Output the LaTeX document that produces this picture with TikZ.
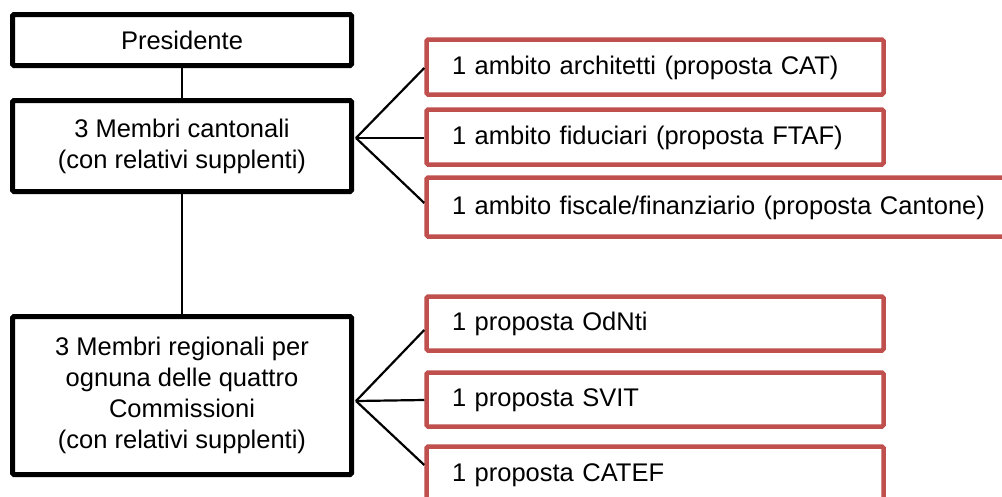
\documentclass[tikz,border=0pt]{standalone}
\usepackage{fontspec}
\setmainfont{Liberation Sans}
\usetikzlibrary{calc}
\definecolor{boxred}{HTML}{C0504D}
\begin{document}
\begin{tikzpicture}[x=1pt,y=-1pt,
  blackbox/.style={draw=black,line width=5pt,rounded corners=1.5pt,fill=white,
    align=center,inner sep=0pt,font=\fontsize{25.5}{31}\selectfont},
  redbox/.style={draw=boxred,line width=4.5pt,rounded corners=1.5pt,fill=white,
    inner xsep=25.5pt,inner ysep=0pt,align=left,minimum height=55pt,
    font=\fontsize{25.5}{31}\selectfont,text height=18.5pt,text depth=4.5pt},
  link/.style={draw=black,line width=2.2pt},
  vlink/.style={draw=black,line width=2.5pt}]
\useasboundingbox (0,0) rectangle (1002,496);
\clip (0,0) rectangle (1002,496);
\fill[white] (0,0) rectangle (1002,496);

% black boxes
\node[blackbox,minimum width=339pt,minimum height=51pt] (pres) at (182,40) {Presidente};
\node[blackbox,minimum width=339pt,minimum height=91pt] (cant) at (182,146)
  {3 Membri cantonali\\(con relativi supplenti)};
\node[blackbox,minimum width=339pt,minimum height=158pt] (reg) at (182,395.5)
  {3 Membri regionali per\\ognuna delle quattro\\Commissioni\\(con relativi supplenti)};

% red boxes, top group
\node[redbox,text width=406pt] (r1) at (655,67) {1 ambito architetti (proposta CAT)};
\node[redbox,text width=406pt] (r2) at (655,137) {1 ambito fiduciari (proposta FTAF)};
\node[redbox,text width=534.5pt,minimum height=59pt] (r3) at (719.25,207)
  {1 ambito fiscale/finanziario (proposta Cantone)};

% red boxes, bottom group
\node[redbox,text width=406pt,minimum height=54pt] (b1) at (655,323.5) {1 proposta OdNti};
\node[redbox,text width=406pt,minimum height=54pt] (b2) at (655,399.5) {1 proposta SVIT};
\node[redbox,text width=406pt,minimum height=56pt] (b3) at (655,474.5) {1 proposta CATEF};

% connectors
\draw[vlink] (pres.south) -- (cant.north);
\draw[vlink] (cant.south) -- (reg.north);

\coordinate (f1) at ($(cant.east)+(2,-8)$);
\coordinate (f2) at ($(reg.east)+(2,5.5)$);

\draw[link] (f1) -- ($(r1.west)+(0,1)$);
\draw[link] (f1) -- ($(r2.west)+(0,1)$);
\draw[link] (f1) -- ($(r3.west)+(0,-4)$);

\draw[link] (f2) -- ($(b1.west)+(0,6.5)$);
\draw[link] (f2) -- ($(b2.west)+(0,0.5)$);
\draw[link] (f2) -- ($(b3.west)+(0,-9.5)$);
\end{tikzpicture}
\end{document}
